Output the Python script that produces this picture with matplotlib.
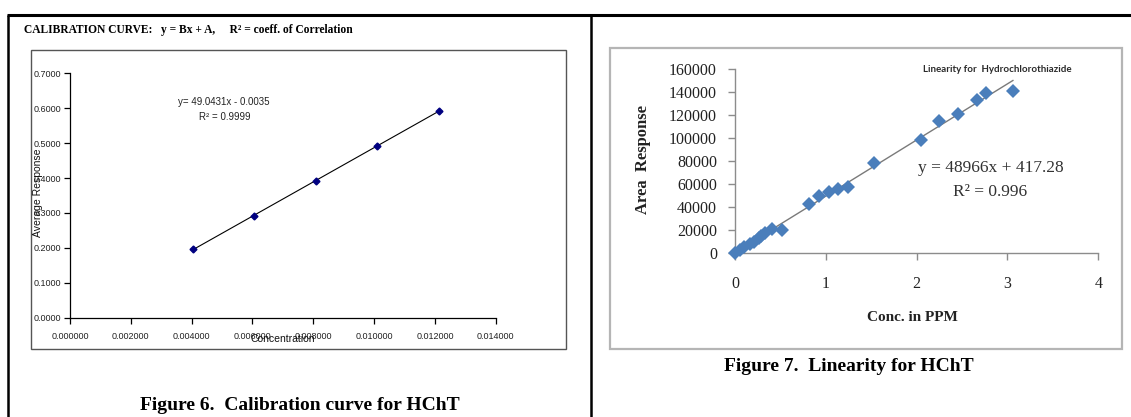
import numpy as np
import matplotlib
matplotlib.use("Agg")
import matplotlib.pyplot as plt
from matplotlib.lines import Line2D
from matplotlib.patches import Rectangle
from matplotlib.ticker import FormatStrFormatter, MultipleLocator

# figure 6 data: calibration curve
conc6 = [0.00404, 0.00606, 0.00808, 0.0101, 0.01212]
resp6 = [0.196, 0.292, 0.392, 0.491, 0.592]
slope6, icept6 = 49.0431, -0.0035

# figure 7 data: linearity
conc7 = [0, 0.05, 0.10, 0.16, 0.21, 0.26, 0.29, 0.33, 0.41, 0.52, 0.82, 0.93,
         1.03, 1.13, 1.24, 1.53, 2.05, 2.25, 2.45, 2.66, 2.76, 3.06]
area7 = [0, 2200, 4700, 7300, 9600, 12500, 14800, 17500, 20800, 19800, 42500,
         49800, 53000, 55300, 57000, 78500, 98500, 115000, 121000, 133500,
         139500, 141000]
slope7, icept7 = 48966, 417.28

W, H = 1131, 417
fig = plt.figure(figsize=(W / 100, H / 100), dpi=100)

def fx(x):
    return x / W

def fy(y):
    return 1 - y / H

def pline(x0, y0, x1, y1, lw, color="black"):
    fig.add_artist(Line2D([fx(x0), fx(x1)], [fy(y0), fy(y1)], lw=lw, color=color,
                          transform=fig.transFigure, solid_capstyle="butt"))

def pbox(x0, y0, x1, y1, color, lw):
    fig.add_artist(Rectangle((fx(x0), fy(y1)), fx(x1) - fx(x0), fy(y0) - fy(y1),
                             fill=False, edgecolor=color, lw=lw, transform=fig.transFigure))

# table lines
pline(7, 15, W, 15, 2.2)
pline(8, 15, 8, H, 1.8)
pline(591, 15, 591, H, 1.8)

# chart boxes
pbox(31, 50, 566, 349, "#555555", 1.0)
pbox(610, 48, 1122, 349, "#b5b5b5", 1.6)

narrow = ["Liberation Sans Narrow", "Liberation Sans", "DejaVu Sans"]
serif = ["Liberation Serif", "DejaVu Serif"]

# ---- left chart ----
fig.text(fx(24), fy(30), "CALIBRATION CURVE:   y = Bx + A,     R² = coeff. of Correlation",
         family=serif, weight="bold", fontsize=8.3, va="center", ha="left")

ax1 = fig.add_axes([fx(70), fy(317.7), fx(495.7) - fx(70), fy(73.3) - fy(317.7)])
ax1.set_xlim(0, 0.014)
ax1.set_ylim(0, 0.7)
ax1.xaxis.set_major_locator(MultipleLocator(0.002))
ax1.yaxis.set_major_locator(MultipleLocator(0.1))
ax1.xaxis.set_major_formatter(FormatStrFormatter("%.6f"))
ax1.yaxis.set_major_formatter(FormatStrFormatter("%.4f"))
for s in ["top", "right"]:
    ax1.spines[s].set_visible(False)
for s in ["left", "bottom"]:
    ax1.spines[s].set_linewidth(0.9)
ax1.tick_params(axis="x", direction="out", length=4, width=0.9, pad=6, labelsize=6.5)
ax1.tick_params(axis="y", direction="out", length=4, width=0.9, pad=2.5, labelsize=6.5)
for lab in ax1.get_xticklabels() + ax1.get_yticklabels():
    lab.set_family(narrow)
    lab.set_color("#222222")
ax1.patch.set_alpha(0)

xl = np.array([min(conc6), max(conc6)])
ax1.plot(xl, slope6 * xl + icept6, color="black", lw=0.8)
ax1.plot(conc6, resp6, linestyle="none", marker="D", markersize=3.5, color="#000080")

fig.text(fx(224), fy(101.7), "y= 49.0431x - 0.0035", family=narrow, fontsize=7,
         ha="center", va="center", color="#222222")
fig.text(fx(224.5), fy(116.7), "R² = 0.9999", family=narrow, fontsize=7,
         ha="center", va="center", color="#222222")
fig.text(fx(38), fy(193), "Average Response", family=narrow, fontsize=7.5,
         rotation=90, ha="center", va="center", color="#111111")
fig.text(fx(283), fy(339), "Concentration", family=narrow, fontsize=7.5,
         ha="center", va="center", color="#111111")

fig.text(fx(300), fy(405), "Figure 6.  Calibration curve for HChT", family=serif,
         weight="bold", fontsize=14, ha="center", va="center")

# ---- right chart ----
ax2 = fig.add_axes([fx(735), fy(252.7), fx(1098.3) - fx(735), fy(69.3) - fy(252.7)])
ax2.set_xlim(0, 4)
ax2.set_ylim(0, 160000)
ax2.xaxis.set_major_locator(MultipleLocator(1))
ax2.yaxis.set_major_locator(MultipleLocator(20000))
for s in ["top", "right"]:
    ax2.spines[s].set_visible(False)
for s in ["left", "bottom"]:
    ax2.spines[s].set_color("#8c8c8c")
    ax2.spines[s].set_linewidth(1.0)
ax2.tick_params(axis="x", direction="out", length=5, width=1.0, color="#8c8c8c",
                pad=12, labelsize=11.5)
ax2.tick_params(axis="y", direction="out", length=5, width=1.0, color="#8c8c8c",
                pad=8, labelsize=11.5)
for lab in ax2.get_xticklabels() + ax2.get_yticklabels():
    lab.set_family(serif)
    lab.set_color("#222222")
ax2.patch.set_alpha(0)

xl2 = np.array([0, max(conc7)])
ax2.plot(xl2, slope7 * xl2 + icept7, color="#7a7a7a", lw=1.0, zorder=2)
ax2.plot(conc7, area7, linestyle="none", marker="D", markersize=7.5, color="#4a7ebb",
         markeredgewidth=0, zorder=3, clip_on=False)

fig.text(fx(997), fy(69), "Linearity for  Hydrochlorothiazide",
         family=["Lato", "DejaVu Sans"], weight="bold", fontsize=7, ha="center",
         va="center", color="#2a2a2a")
fig.text(fx(991), fy(168.3), "y = 48966x + 417.28", family=serif, fontsize=12.5,
         ha="center", va="center", color="#333333")
fig.text(fx(990), fy(191.7), "R² = 0.996", family=serif, fontsize=12.5,
         ha="center", va="center", color="#333333")
fig.text(fx(643), fy(160), "Area  Response", family=serif, weight="bold", fontsize=12,
         rotation=90, ha="center", va="center", color="#222222")
fig.text(fx(912.5), fy(317.3), "Conc. in PPM", family=serif, weight="bold", fontsize=11,
         ha="center", va="center", color="#222222")

fig.text(fx(849), fy(366.7), "Figure 7.  Linearity for HChT", family=serif,
         weight="bold", fontsize=14, ha="center", va="center")

fig.savefig("out.png", dpi=100)
